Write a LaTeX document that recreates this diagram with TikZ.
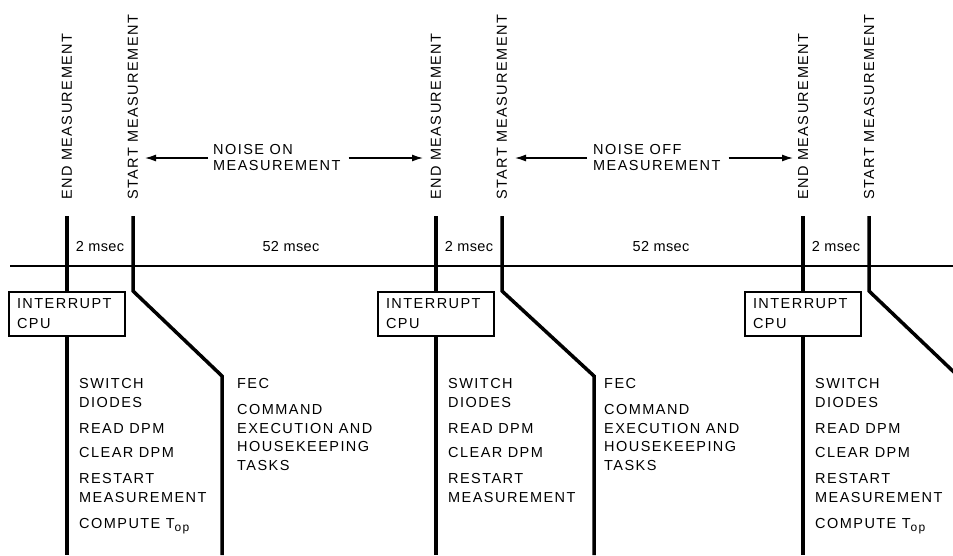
\documentclass[tikz,border=0pt]{standalone}
\usepackage{fontspec}
\setmainfont{Liberation Sans}[LetterSpace=10]
\usepackage{tikz}
\usetikzlibrary{arrows.meta,positioning}
\newcommand{\Top}{T\raisebox{-0.45ex}{\fontsize{12}{12}\selectfont op}}

\begin{document}
\begin{tikzpicture}[x=1pt, y=-1pt,
      every node/.style={font=\fontsize{14.5}{19}\selectfont, inner sep=0pt},
      vlab/.style={rotate=90, anchor=west},
      cpu/.style={draw, line width=1.6pt, minimum width=116pt, minimum height=44pt,
                  text width=100pt, inner xsep=8pt, inner ysep=6pt, align=left,
                  font=\fontsize{14.5}{20}\selectfont},
      task/.style={anchor=north west, align=left},
      fec/.style={anchor=north west, align=left, font=\fontsize{14.5}{18.5}\selectfont},
      noise/.style={anchor=west, align=left, font=\fontsize{14.5}{16}\selectfont},
      gap/.style={font=\fontsize{14.5}{19}\selectfont\addfontfeature{LetterSpace=3}},
      vline/.style={line width=3.5pt},
      hline/.style={line width=2.5pt},
      arr/.style={-{Latex[length=11pt,width=7pt]}, line width=1.3pt}
  ]
    \useasboundingbox (0,0) rectangle (953,555);
    \clip (0,0) rectangle (953,555);

    \node[vlab] (end1)   at (67,200)  {END MEASUREMENT};
    \node[vlab] (start1) at (133,200) {START MEASUREMENT};
    \node[vlab] (end2)   at (436,200) {END MEASUREMENT};
    \node[vlab] (start2) at (502,200) {START MEASUREMENT};
    \node[vlab] (end3)   at (803,200) {END MEASUREMENT};
    \node[vlab] (start3) at (869,200) {START MEASUREMENT};

    \node[noise] (non)  at (213,158) {NOISE ON\\MEASUREMENT};
    \node[noise] (noff) at (593,158) {NOISE OFF\\MEASUREMENT};
    \draw[arr, shorten <=5pt, shorten >=12pt] (non.west) -- (non.west -| start1.west);
    \draw[arr, shorten <=8pt, shorten >=13pt] (non.east) -- (non.east -| end2.west);
    \draw[arr, shorten <=6pt, shorten >=13pt] (noff.west) -- (noff.west -| start2.west);
    \draw[arr, shorten <=8pt, shorten >=10pt] (noff.east) -- (noff.east -| end3.west);

    \node[gap] (g1) at (100,247) {2 msec};
    \node[gap] (g2) at (291,247) {52 msec};
    \node[gap] (g3) at (469,247) {2 msec};
    \node[gap] (g4) at (661,247) {52 msec};
    \node[gap] (g5) at (836,247) {2 msec};

    \coordinate (axL) at (10,266);
    \coordinate (axR) at (953,266);
    \draw[hline] (axL) -- (axR);

    \node[cpu] (cpu1) at (67,314)  {INTERRUPT\\CPU};
    \node[cpu] (cpu2) at (436,314) {INTERRUPT\\CPU};
    \node[cpu] (cpu3) at (803,314) {INTERRUPT\\CPU};

    \coordinate (e1) at (67,555);
    \coordinate (e2) at (436,555);
    \coordinate (e3) at (803,555);
    \coordinate (s1a) at (133,291); \coordinate (s1b) at (222,376); \coordinate (s1c) at (222,555);
    \coordinate (s2a) at (502,291); \coordinate (s2b) at (594,376); \coordinate (s2c) at (594,555);
    \coordinate (s3a) at (869,291); \coordinate (s3b) at (958,376); \coordinate (s3c) at (958,555);

    \draw[vline] (end1.west) ++(0,16) -- (cpu1.north); \draw[vline] (cpu1.south) -- (e1);
    \draw[vline] (end2.west) ++(0,16) -- (cpu2.north); \draw[vline] (cpu2.south) -- (e2);
    \draw[vline] (end3.west) ++(0,16) -- (cpu3.north); \draw[vline] (cpu3.south) -- (e3);
    \draw[vline] (start1.west) ++(0,16) -- (s1a) -- (s1b) -- (s1c);
    \draw[vline] (start2.west) ++(0,16) -- (s2a) -- (s2b) -- (s2c);
    \draw[vline] (start3.west) ++(0,16) -- (s3a) -- (s3b) -- (s3c);

    \node[task] (sw1) at (79,378)  {SWITCH\\DIODES\\[7pt]READ DPM\\[5pt]CLEAR DPM\\[7pt]RESTART\\MEASUREMENT\\[7pt]COMPUTE \Top};
    \node[task] (sw2) at (448,378) {SWITCH\\DIODES\\[7pt]READ DPM\\[5pt]CLEAR DPM\\[7pt]RESTART\\MEASUREMENT};
    \node[task] (sw3) at (815,378) {SWITCH\\DIODES\\[7pt]READ DPM\\[5pt]CLEAR DPM\\[7pt]RESTART\\MEASUREMENT\\[7pt]COMPUTE \Top};
    \node[fec] (fec1) at (237,378) {FEC\\[8pt]COMMAND\\EXECUTION AND\\HOUSEKEEPING\\TASKS};
    \node[fec] (fec2) at (604,378) {FEC\\[8pt]COMMAND\\EXECUTION AND\\HOUSEKEEPING\\TASKS};
  \end{tikzpicture}
\end{document}
